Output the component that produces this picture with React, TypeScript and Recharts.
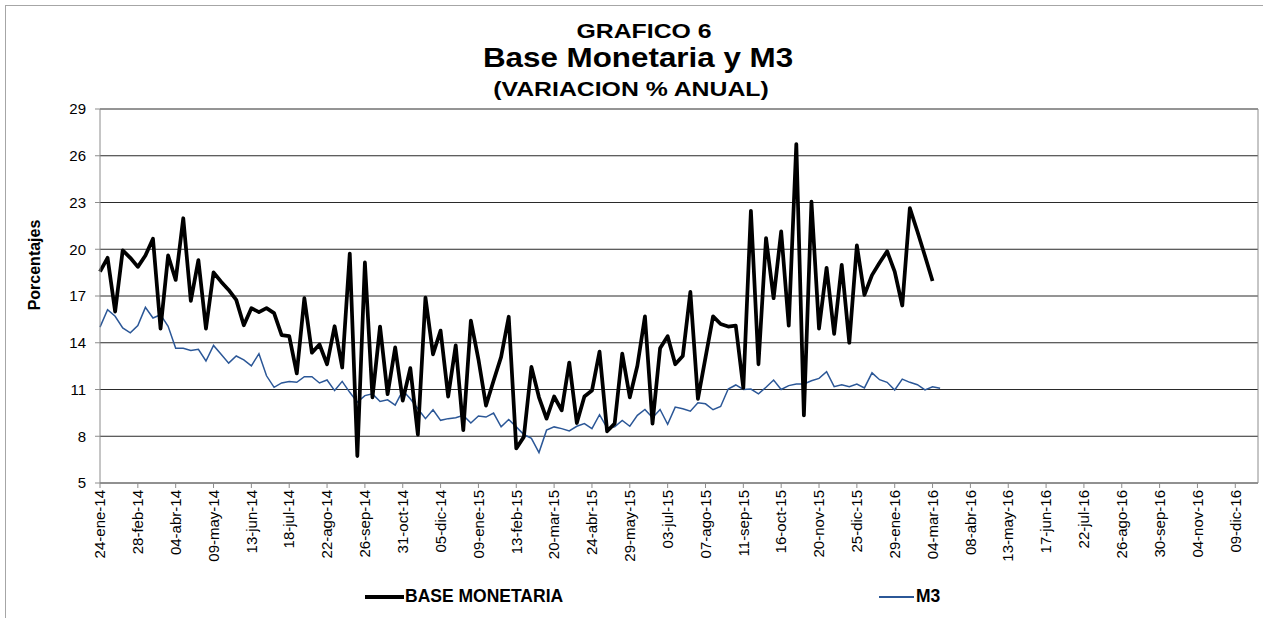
import React from 'react'
import { LineChart, Line, XAxis, YAxis, CartesianGrid, ReferenceLine } from 'recharts'

// weekly observations, first week 24-ene-14
const START_DATE = '2014-01-24'
const WEEKS_ON_AXIS = 154
const MESES = ['ene', 'feb', 'mar', 'abr', 'may', 'jun', 'jul', 'ago', 'sep', 'oct', 'nov', 'dic']

const baseMonetaria = [
  18.56, 19.45, 16.0, 19.93, 19.45, 18.87, 19.6, 20.67, 14.91, 19.6,
  18.03, 21.99, 16.69, 19.3, 14.91, 18.51, 17.92, 17.39, 16.75, 15.12,
  16.22, 15.97, 16.22, 15.9, 14.49, 14.42, 12.03, 16.86, 13.36, 13.89,
  12.62, 15.06, 12.41, 19.72, 6.73, 19.15, 10.5, 15.04, 10.7, 13.7,
  10.29, 12.37, 8.11, 16.9, 13.26, 14.78, 10.55, 13.83, 8.39, 15.42,
  12.94, 9.97, 11.56, 13.09, 15.67, 7.22, 7.96, 12.45, 10.5, 9.13,
  10.55, 9.66, 12.73, 8.85, 10.55, 10.93, 13.43, 8.32, 8.81, 13.3,
  10.5, 12.52, 15.69, 8.81, 13.64, 14.42, 12.62, 13.15, 17.26, 10.4,
  13.05, 15.69, 15.2, 15.04, 15.1, 11.1, 22.47, 12.62, 20.72, 16.86,
  21.14, 15.1, 26.75, 9.34, 23.05, 14.91, 18.81, 14.57, 19.0, 14.0,
  20.25, 17.07, 18.34, 19.13, 19.87, 18.56, 16.39, 22.64, 21.14, 19.57,
  17.96,
]

const m3 = [
  15.0, 16.12, 15.7, 14.95, 14.64, 15.1, 16.27, 15.59, 15.8, 15.06,
  13.64, 13.64, 13.51, 13.58, 12.83, 13.83, 13.26, 12.69, 13.15, 12.9,
  12.52, 13.3, 11.88, 11.14, 11.42, 11.52, 11.46, 11.82, 11.82, 11.42,
  11.61, 10.93, 11.52, 10.82, 10.19, 10.61, 10.72, 10.23, 10.34, 10.0,
  10.93, 10.4, 9.76, 9.13, 9.7, 9.02, 9.13, 9.19, 9.34, 8.85,
  9.3, 9.23, 9.49, 8.6, 9.07, 8.6, 8.11, 7.86, 6.95, 8.39,
  8.6, 8.49, 8.34, 8.64, 8.81, 8.49, 9.38, 8.53, 8.6, 9.02,
  8.64, 9.34, 9.72, 9.19, 9.72, 8.77, 9.87, 9.76, 9.61, 10.15,
  10.08, 9.7, 9.91, 11.03, 11.29, 11.0, 11.03, 10.72, 11.14, 11.61,
  11.0, 11.25, 11.35, 11.35, 11.56, 11.71, 12.14, 11.18, 11.31, 11.18,
  11.35, 11.1, 12.07, 11.63, 11.46, 10.97, 11.67, 11.46, 11.31, 10.97,
  11.18, 11.08,
]

const yTicks = [5, 8, 11, 14, 17, 20, 23, 26, 29]

function weekLabels(start: string, n: number): string[] {
  const out: string[] = []
  const d0 = new Date(start + 'T12:00:00Z')
  for (let i = 0; i < n; i++) {
    const d = new Date(d0.getTime() + i * 7 * 86400000)
    const dd = String(d.getUTCDate()).padStart(2, '0')
    const yy = String(d.getUTCFullYear()).slice(2)
    out.push(`${dd}-${MESES[d.getUTCMonth()]}-${yy}`)
  }
  return out
}

const categories = weekLabels(START_DATE, WEEKS_ON_AXIS)

const chartData = categories.map((date, i) => ({
  date,
  base: i < baseMonetaria.length ? baseMonetaria[i] : null,
  m3: i < m3.length ? m3[i] : null,
}))

const FONT = '"Liberation Sans", Arial, sans-serif'
const BLUE = '#2B5797'

function XTick({ x, y, payload }: any) {
  return (
    <text
      x={x} y={y} dy="0.35em"
      transform={`rotate(-90, ${x}, ${y})`}
      textAnchor="end" fontSize={15} fill="#000" fontFamily={FONT}
    >
      {payload.value}
    </text>
  )
}

function YTick({ x, y, payload }: any) {
  return (
    <text x={x} y={y} dy="0.35em" textAnchor="end" fontSize={15} fill="#000" fontFamily={FONT}>
      {payload.value}
    </text>
  )
}

function TitleLine({ text, size, top, cx, stretch }: { text: string; size: number; top: number; cx: number; stretch: number }) {
  return (
    <div style={{
      position: 'absolute', left: cx, top, fontSize: size, lineHeight: 1, fontWeight: 700,
      fontFamily: FONT, whiteSpace: 'nowrap', transform: `translateX(-50%) scaleX(${stretch})`,
    }}>
      {text}
    </div>
  )
}

export default function App() {
  return (
    <div style={{ position: 'absolute', left: 0, top: 0, width: 1263, height: 618, background: '#fff', overflow: 'hidden' }}>
      {/* outer frame */}
      <div style={{ position: 'absolute', left: 5, top: 5, width: 1300, height: 700, borderTop: '1px solid #a6a6a6', borderLeft: '1px solid #a6a6a6' }} />

      <TitleLine text="GRAFICO 6" size={20} top={21} cx={644} stretch={1.24} />
      <TitleLine text="Base Monetaria y M3" size={28} top={44} cx={638} stretch={1.12} />
      <TitleLine text="(VARIACION % ANUAL)" size={20} top={79} cx={631} stretch={1.24} />

      <div style={{
        position: 'absolute', left: 35, top: 265, fontSize: 16, lineHeight: 1, fontWeight: 700,
        fontFamily: FONT, whiteSpace: 'nowrap', transform: 'translate(-50%, -50%) rotate(-90deg)',
      }}>
        Porcentajes
      </div>

      <div style={{ position: 'absolute', left: 0, top: 0 }}>
        <LineChart width={1263} height={618} data={chartData} margin={{ top: 109, right: 5, bottom: 0, left: 0 }}>
          <CartesianGrid vertical={false} stroke="#2a2a2a" strokeWidth={1} />
          <XAxis
            dataKey="date"
            interval={4}
            height={135}
            tick={(p: any) => <XTick {...p} />}
            tickSize={5}
            tickMargin={2}
            axisLine={{ stroke: '#8c8c8c' }}
            tickLine={{ stroke: '#8c8c8c' }}
          />
          <YAxis
            width={100}
            domain={[5, 29]}
            ticks={yTicks}
            type="number"
            allowDataOverflow
            tick={(p: any) => <YTick {...p} />}
            tickSize={5}
            tickMargin={9}
            axisLine={{ stroke: '#8c8c8c' }}
            tickLine={{ stroke: '#8c8c8c' }}
          />
          <ReferenceLine x={categories[categories.length - 1]} stroke="#8c8c8c" />
          <Line
            dataKey="m3" type="linear" stroke={BLUE} strokeWidth={1.5}
            dot={false} activeDot={false} isAnimationActive={false}
          />
          <Line
            dataKey="base" type="linear" stroke="#000" strokeWidth={3.75} strokeLinejoin="round"
            dot={false} activeDot={false} isAnimationActive={false}
          />
        </LineChart>
      </div>

      {/* legend */}
      <div style={{ position: 'absolute', left: 365, top: 586, display: 'flex', alignItems: 'center', fontFamily: FONT, fontWeight: 700, fontSize: 17.5 }}>
        <span style={{ display: 'inline-block', width: 39, height: 4, background: '#000', marginRight: 1 }} />
        <span>BASE MONETARIA</span>
      </div>
      <div style={{ position: 'absolute', left: 879, top: 586, display: 'flex', alignItems: 'center', fontFamily: FONT, fontWeight: 700, fontSize: 17.5 }}>
        <span style={{ display: 'inline-block', width: 35, height: 2, background: BLUE, marginRight: 2 }} />
        <span>M3</span>
      </div>
    </div>
  )
}
